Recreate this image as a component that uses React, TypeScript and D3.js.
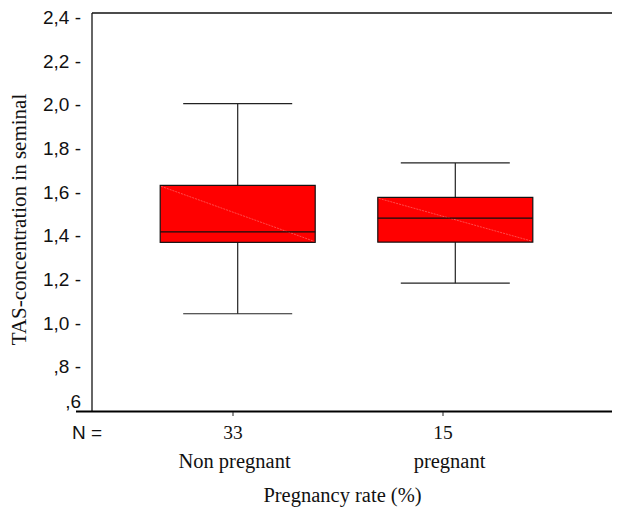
import * as d3 from "d3";
import { useEffect, useRef } from "react";

// groups on the x axis
const groups = ["Non pregnant", "pregnant"];
const counts = [33, 15];
// box statistics
const whiskerLow = [1.05, 1.19];
const q1 = [1.377, 1.378];
const medians = [1.425, 1.488];
const q3 = [1.638, 1.583];
const whiskerHigh = [2.012, 1.741];
// y tick values and labels (comma decimals, as in the original)
const yTicks = [0.6, 0.8, 1.0, 1.2, 1.4, 1.6, 1.8, 2.0, 2.2, 2.4];
const yTickLabels = [",6", ",8", "1,0", "1,2", "1,4", "1,6", "1,8", "2,0", "2,2", "2,4"];

const SANS = "'Liberation Sans', Arial, sans-serif";
const SERIF = "'Liberation Serif', 'Times New Roman', serif";

const App = () => {
  const svgRef = useRef<SVGSVGElement>(null);

  useEffect(() => {
    const width = 620;
    const height = 508;
    const svg = d3.select(svgRef.current).attr("width", width).attr("height", height);
    svg.selectAll("*").remove();

    const left = 92;
    const top = 13;
    const bottom = 412;

    const y = d3.scaleLinear().domain([0.6, 2.4]).range([412, 19]);
    // boxes sit a little right of the tick marks in the original
    const xBox = d3.scalePoint().domain(groups).range([237.7, 455.3]);
    const xTick = d3.scalePoint().domain(groups).range([233, 443]);
    const xLabel = d3.scalePoint().domain(groups).range([234.5, 449.5]);

    // frame
    svg.append("line").attr("x1", left).attr("x2", left).attr("y1", top).attr("y2", bottom)
      .attr("stroke", "#333").attr("stroke-width", 1.5);
    svg.append("line").attr("x1", left).attr("x2", 620).attr("y1", top).attr("y2", top)
      .attr("stroke", "#111").attr("stroke-width", 1.5);
    svg.append("line").attr("x1", 76).attr("x2", 613).attr("y1", 411.5).attr("y2", 411.5)
      .attr("stroke", "#000").attr("stroke-width", 2);

    // y tick labels
    svg.selectAll("yLabel")
      .data(yTicks)
      .enter()
      .append("text")
      .attr("x", 81)
      .attr("y", (d) => (d === 0.6 ? y(d) - 11 : y(d) - 1.5))
      .attr("dy", "0.35em")
      .attr("text-anchor", "end")
      .attr("font-family", SANS)
      .attr("font-size", 19)
      .attr("fill", "#111")
      .text((d, i) => (d === 0.6 ? yTickLabels[i] + "  " : yTickLabels[i] + " -"));

    // x ticks
    svg.selectAll("xTick")
      .data(groups)
      .enter()
      .append("line")
      .attr("x1", (d) => xTick(d)!)
      .attr("x2", (d) => xTick(d)!)
      .attr("y1", 412)
      .attr("y2", 416)
      .attr("stroke", "#222");

    const boxW = 155;
    const capW = 109;
    const stats = groups.map((g, i) => ({
      g,
      lo: whiskerLow[i],
      q1: q1[i],
      med: medians[i],
      q3: q3[i],
      hi: whiskerHigh[i],
    }));

    const gBox = svg.selectAll("gBox").data(stats).enter().append("g");
    gBox.append("line")
      .attr("x1", (d) => xBox(d.g)!).attr("x2", (d) => xBox(d.g)!)
      .attr("y1", (d) => y(d.hi)).attr("y2", (d) => y(d.lo))
      .attr("stroke", "#222").attr("stroke-width", 1.2);
    gBox.append("line")
      .attr("x1", (d) => xBox(d.g)! - capW / 2).attr("x2", (d) => xBox(d.g)! + capW / 2)
      .attr("y1", (d) => y(d.hi)).attr("y2", (d) => y(d.hi))
      .attr("stroke", "#222").attr("stroke-width", 1.2);
    gBox.append("line")
      .attr("x1", (d) => xBox(d.g)! - capW / 2).attr("x2", (d) => xBox(d.g)! + capW / 2)
      .attr("y1", (d) => y(d.lo)).attr("y2", (d) => y(d.lo))
      .attr("stroke", "#222").attr("stroke-width", 1.2);
    gBox.append("rect")
      .attr("x", (d) => xBox(d.g)! - boxW / 2)
      .attr("y", (d) => y(d.q3))
      .attr("width", boxW)
      .attr("height", (d) => y(d.q1) - y(d.q3))
      .attr("fill", "#ff0000")
      .attr("stroke", "#111")
      .attr("stroke-width", 1.2);
    // faint diagonal seen across each box
    gBox.append("line")
      .attr("x1", (d) => xBox(d.g)! - boxW / 2 + 1).attr("x2", (d) => xBox(d.g)! + boxW / 2 - 1)
      .attr("y1", (d) => y(d.q3) + 1).attr("y2", (d) => y(d.q1) - 1)
      .attr("stroke", "#ff8080").attr("stroke-width", 0.6).attr("stroke-dasharray", "2,1");
    gBox.append("line")
      .attr("x1", (d) => xBox(d.g)! - boxW / 2).attr("x2", (d) => xBox(d.g)! + boxW / 2)
      .attr("y1", (d) => y(d.med)).attr("y2", (d) => y(d.med))
      .attr("stroke", "#111").attr("stroke-width", 1.2);

    // N = and counts
    svg.append("text")
      .attr("x", 72).attr("y", 439)
      .attr("font-family", SANS)
      .attr("font-size", 19).attr("fill", "#111")
      .text("N =");
    svg.selectAll("nLabel")
      .data(groups)
      .enter()
      .append("text")
      .attr("x", (d) => xTick(d)!)
      .attr("y", 439)
      .attr("text-anchor", "middle")
      .attr("font-family", SERIF)
      .attr("font-size", 19.5).attr("fill", "#111")
      .text((d, i) => counts[i]);
    svg.selectAll("gLabel")
      .data(groups)
      .enter()
      .append("text")
      .attr("x", (d) => xLabel(d)!)
      .attr("y", 468)
      .attr("text-anchor", "middle")
      .attr("font-family", SERIF)
      .attr("font-size", 20.5).attr("fill", "#111")
      .text((d) => d);

    // axis titles
    svg.append("text")
      .attr("x", 342.5).attr("y", 502)
      .attr("text-anchor", "middle")
      .attr("font-family", SERIF)
      .attr("font-size", 20.5).attr("fill", "#111")
      .text("Pregnancy rate (%)");
    svg.append("text")
      .attr("transform", "translate(26,219.5) rotate(-90)")
      .attr("text-anchor", "middle")
      .attr("font-family", SERIF)
      .attr("font-size", 21).attr("fill", "#111")
      .text("TAS-concentration in seminal");
  }, []);

  return (
    <div style={{ marginTop: -8, marginLeft: -8, marginRight: -8 }}>
      <svg ref={svgRef} style={{ display: "block" }}></svg>
    </div>
  );
};

export default App;
